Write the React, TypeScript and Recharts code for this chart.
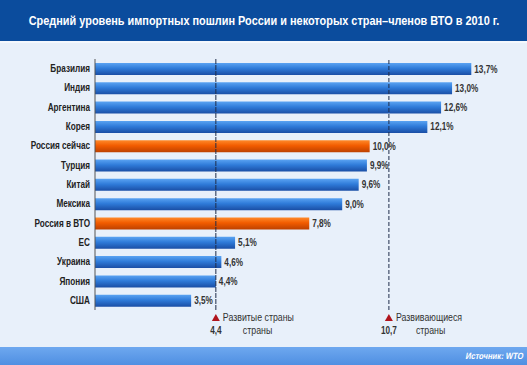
import React from 'react'
import { BarChart, Bar, XAxis, YAxis, ReferenceLine, LabelList, Cell } from 'recharts'

const countries = [
  'Бразилия', 'Индия', 'Аргентина', 'Корея', 'Россия сейчас', 'Турция', 'Китай',
  'Мексика', 'Россия в ВТО', 'ЕС', 'Украина', 'Япония', 'США'
]
const tariffs = [13.7, 13.0, 12.6, 12.1, 10.0, 9.9, 9.6, 9.0, 7.8, 5.1, 4.6, 4.4, 3.5]
const russiaRows = ['Россия сейчас', 'Россия в ВТО']

const developedAvg = 4.4
const developingAvg = 10.7

const data = countries.map((name, i) => ({ name, value: tariffs[i] }))

const sans = '"Liberation Sans", Arial, sans-serif'
const squeeze = 0.82

const fmt = (v: number) => v.toFixed(1).replace('.', ',')

// narrow bold text, like Arial Narrow in the original
function Narrow({ x, y, anchor = 'start', size = 10, bold = true, k = squeeze, fill = '#222', children }: any) {
  return (
    <text
      transform={`translate(${x},${y}) scale(${k},1)`}
      textAnchor={anchor}
      fontFamily={sans}
      fontWeight={bold ? 'bold' : 'normal'}
      fontSize={size}
      fill={fill}
    >
      {children}
    </text>
  )
}

function CountryTick({ x, y, payload }: any) {
  return <Narrow x={x} y={y + 3.5} anchor='end'>{payload.value}</Narrow>
}

function ValueLabel({ x, y, width, height, value }: any) {
  return <Narrow x={x + width + 3} y={y + height / 2 + 3.5} fill='#333'>{fmt(Number(value)) + '%'}</Narrow>
}

function AvgMarker(props: any) {
  const { viewBox, value, line1, line2 } = props
  const x = viewBox.x
  const y = viewBox.y + viewBox.height
  return (
    <g>
      <path d={`M${x - 4},${y + 11} L${x + 4},${y + 11} L${x},${y + 4} Z`} fill='#b0141c' />
      <Narrow x={x + 7} y={y + 11} bold={false} k={0.88} fill='#333'>{line1}</Narrow>
      <Narrow x={x + 27} y={y + 24} bold={false} k={0.88} fill='#333'>{line2}</Narrow>
      <Narrow x={x} y={y + 24} anchor='middle' fill='#333'>{value}</Narrow>
    </g>
  )
}

export default function App() {
  return (
    <div style={{ position: 'absolute', left: 0, top: 0, width: 527, height: 365, background: '#e8f0fa', overflow: 'hidden' }}>
      <svg width={527} height={365} style={{ position: 'absolute', left: 0, top: 0 }}>
        <rect x={0} y={0} width={527} height={41} fill='#0b4c9d' />
        <rect x={0} y={41} width={527} height={2} fill='#f4f8fd' />
        <text
          x={264}
          y={25}
          textAnchor='middle'
          transform='translate(264,0) scale(0.84,1) translate(-264,0)'
          fontFamily={sans}
          fontWeight='bold'
          fontSize={13}
          fill='#fff'
        >
          Средний уровень импортных пошлин России и некоторых стран–членов ВТО в 2010 г.
        </text>
        <defs>
          <linearGradient id='footBar' x1='0' y1='0' x2='0' y2='1'>
            <stop offset='0%' stopColor='#6ea8ef' />
            <stop offset='100%' stopColor='#4f8fe2' />
          </linearGradient>
        </defs>
        <rect x={0} y={347} width={527} height={18} fill='url(#footBar)' />
        <text
          transform='translate(523,359) scale(0.85,1) skewX(-12)'
          textAnchor='end'
          fontFamily={sans}
          fontWeight='bold'
          fontSize={9}
          fill='#fff'
        >
          Источник: WTO
        </text>
      </svg>
      <div style={{ position: 'absolute', left: 0, top: 0 }}>
        <BarChart
          width={527}
          height={365}
          data={data}
          layout='vertical'
          margin={{ top: 59, right: 20, bottom: 55, left: 0 }}
        >
          <defs>
            <linearGradient id='blueBar' x1='0' y1='0' x2='0' y2='1'>
              <stop offset='0%' stopColor='#5aa3f2' />
              <stop offset='45%' stopColor='#2f7bd9' />
              <stop offset='100%' stopColor='#1a4ea5' />
            </linearGradient>
            <linearGradient id='orangeBar' x1='0' y1='0' x2='0' y2='1'>
              <stop offset='0%' stopColor='#ff8a2a' />
              <stop offset='45%' stopColor='#f25c00' />
              <stop offset='100%' stopColor='#bd4100' />
            </linearGradient>
          </defs>
          <XAxis type='number' domain={[0, 15]} hide />
          <YAxis
            type='category'
            dataKey='name'
            width={95}
            axisLine={{ stroke: '#555', strokeWidth: 1 }}
            tickLine={false}
            tickSize={0}
            tickMargin={5}
            tick={<CountryTick />}
            interval={0}
          />
          <Bar dataKey='value' barSize={12} isAnimationActive={false}>
            {data.map((d) => (
              <Cell key={d.name} fill={russiaRows.includes(d.name) ? 'url(#orangeBar)' : 'url(#blueBar)'} />
            ))}
            <LabelList dataKey='value' content={<ValueLabel />} />
          </Bar>
          <ReferenceLine
            x={developedAvg}
            stroke='#1f2d4a'
            strokeDasharray='5 1'
            label={(p: any) => <AvgMarker {...p} value={fmt(developedAvg)} line1='Развитые страны' line2='страны' />}
          />
          <ReferenceLine
            x={developingAvg}
            stroke='#1f2d4a'
            strokeDasharray='4 2'
            label={(p: any) => <AvgMarker {...p} value={fmt(developingAvg)} line1='Развивающиеся' line2='страны' />}
          />
        </BarChart>
      </div>
    </div>
  )
}
